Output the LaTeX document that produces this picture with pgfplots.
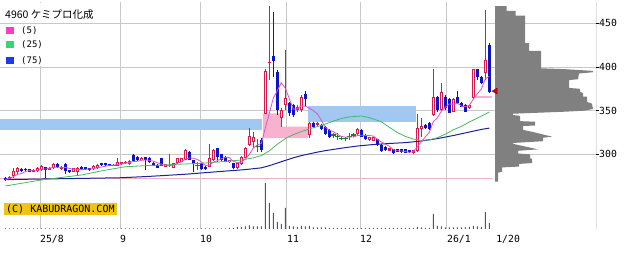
\documentclass[border=0pt]{standalone}
\usepackage{pgfplots}
\pgfplotsset{compat=1.18}
\usepackage{pgfplotstable}
\usepackage{fontspec}
\setmainfont{DejaVu Sans Mono}
\newfontfamily\cjk{Noto Sans CJK JP}

\definecolor{upc}{RGB}{215,25,80}
\definecolor{dnc}{RGB}{10,20,200}
\definecolor{djc}{RGB}{20,130,40}
\definecolor{ma5}{RGB}{225,80,200}
\definecolor{ma25}{RGB}{70,185,95}
\definecolor{ma75}{RGB}{25,35,150}
\definecolor{bandc}{RGB}{160,200,242}
\definecolor{gapc}{RGB}{248,178,206}
\definecolor{lowc}{RGB}{240,175,195}
\definecolor{gridc}{RGB}{200,200,200}
\definecolor{volc}{RGB}{80,80,125}
\definecolor{profc}{RGB}{128,128,128}
\definecolor{copyc}{RGB}{240,195,20}
\definecolor{leg5}{RGB}{255,60,200}
\definecolor{leg25}{RGB}{60,210,120}
\definecolor{leg75}{RGB}{30,60,230}

\pgfplotsset{
  candle/.style 2 args={draw=none, mark=none, forget plot,
    error bars/.cd, y dir=plus, y explicit, error mark=none,
    error bar style={draw=#1, line width=#2}},
}

% i open high low close volume(px) ma5
\pgfplotstableread{
i o h l c v m
0 272.5 273.5 269.5 270.2 0.6 271.0
1 271.5 275.0 271.0 274.0 0.6 272.3
2 275.5 283.9 273.3 280.9 0.6 274.5
3 279.4 285.0 278.0 283.9 0.6 277.0
4 283.2 284.0 280.0 280.9 0.6 278.0
5 283.0 284.0 280.5 281.5 0.6 280.2
6 282.8 283.5 279.5 280.1 0.6 281.5
7 280.1 283.0 279.5 282.0 0.6 281.7
8 280.9 285.5 280.0 284.7 0.6 281.8
9 282.0 287.5 281.0 286.5 0.6 283.0
10 285.0 286.0 273.0 282.0 0.6 283.1
11 282.4 285.5 282.0 284.7 0.6 284.0
12 283.9 289.5 283.0 288.5 0.6 285.3
13 288.5 289.5 284.5 285.0 0.6 285.3
14 283.2 286.5 282.5 285.8 0.6 285.2
15 288.5 289.5 278.0 280.9 0.6 285.0
16 281.6 282.0 279.0 279.4 0.6 283.9
17 280.1 284.5 279.5 283.9 0.6 283.0
18 280.1 285.5 276.3 284.7 0.6 282.9
19 285.8 286.5 282.0 282.8 0.6 282.3
20 285.0 286.0 282.5 283.0 0.6 282.8
21 283.9 284.5 281.0 281.6 0.6 283.2
22 283.2 287.5 282.5 287.0 0.6 283.8
23 283.9 288.5 283.5 287.7 0.6 284.4
24 289.7 290.5 287.0 287.7 0.6 285.4
25 289.7 290.5 287.0 287.7 0.6 286.3
26 288.5 289.0 286.5 287.0 0.6 287.4
27 287.7 289.0 286.5 287.7 0.6 287.6
28 287.0 295.4 286.5 291.5 0.6 288.3
29 288.5 291.5 288.0 290.8 0.6 288.9
30 289.5 292.5 289.0 291.6 0.6 289.7
31 288.5 293.0 288.0 292.3 0.6 290.8
32 299.2 300.5 291.5 292.3 0.6 291.7
33 297.3 298.0 292.5 293.0 0.6 292.0
34 293.5 297.0 293.0 296.2 0.6 293.1
35 296.5 297.5 282.0 293.5 0.6 293.5
36 296.2 297.0 290.0 290.8 0.6 293.2
37 290.4 291.0 286.5 287.0 0.6 292.1
38 287.7 288.5 284.0 284.7 0.6 290.4
39 295.4 296.0 286.5 287.0 0.6 288.6
40 285.8 289.0 285.0 288.5 0.6 287.6
41 287.7 299.9 285.8 287.7 0.6 287.0
42 284.7 290.5 284.0 289.7 0.6 287.5
43 289.7 296.0 289.0 295.4 0.6 289.7
44 291.6 296.0 291.0 295.4 0.6 291.3
45 293.5 306.0 293.0 304.9 0.6 294.6
46 302.3 303.5 293.0 293.5 0.6 295.8
47 293.5 294.0 280.1 288.5 0.6 295.5
48 287.7 291.6 282.0 287.7 0.6 294.0
49 289.7 290.5 282.5 283.2 0.6 291.6
50 285.8 286.5 282.5 283.2 0.6 287.2
51 285.8 311.4 285.0 295.4 0.6 287.6
52 293.5 306.0 292.0 304.9 0.6 290.9
53 306.9 307.5 291.6 297.3 0.6 292.8
54 300.0 300.5 292.5 293.5 0.6 294.9
55 297.3 298.0 291.0 291.6 0.6 296.5
56 290.8 294.0 290.0 293.5 1.0 296.2
57 289.7 290.5 283.0 283.9 1.0 292.0
58 284.0 290.5 283.5 289.7 2.0 290.4
59 288.5 298.0 288.0 297.3 2.0 291.2
60 296.2 308.0 295.5 306.9 2.5 294.3
61 310.6 329.7 310.0 321.3 3.5 299.8
62 314.5 325.9 306.9 320.2 2.5 307.1
63 308.5 318.0 303.0 308.5 2.5 310.8
64 316.4 318.6 303.0 304.9 2.5 312.4
65 346.1 397.5 346.0 395.4 46 330.1
66 404.0 469.8 385.0 406.0 26 347.0
67 412.5 463.0 389.0 406.8 16 364.3
68 394.6 397.0 345.0 350.7 7 372.8
69 341.2 353.0 331.6 350.7 5 381.9
70 356.4 419.4 350.7 364.4 21 375.7
71 358.4 360.0 344.0 347.0 3 363.9
72 356.5 358.0 343.0 345.0 2.5 351.6
73 350.7 356.0 349.0 354.5 2 352.3
74 350.7 368.0 349.0 366.0 3 355.4
75 369.0 372.0 355.2 363.0 2.5 355.1
76 322.0 336.9 318.6 335.5 3 352.8
77 335.5 337.0 330.5 331.6 1.5 350.1
78 333.6 337.0 332.5 336.2 1.5 346.5
79 333.6 334.5 328.0 328.6 1.5 339.0
80 331.6 332.5 322.5 323.2 1.5 331.0
81 327.8 328.5 318.5 319.4 0.8 327.8
82 322.1 324.0 318.3 322.1 0.8 325.9
83 320.2 324.0 316.4 320.2 0.8 322.7
84 318.3 321.0 316.4 318.3 0.8 320.6
85 318.0 320.2 315.6 318.0 0.8 319.6
86 320.2 324.0 316.4 320.2 0.8 319.8
87 322.1 324.7 319.4 322.1 0.8 319.8
88 323.2 330.0 322.5 328.6 0.8 321.4
89 327.8 328.5 319.5 320.2 0.8 321.8
90 322.1 323.0 316.5 317.1 0.8 321.6
91 316.4 320.0 315.6 319.4 0.8 321.5
92 315.6 320.2 315.0 319.4 0.8 320.9
93 317.1 318.0 310.0 310.6 0.8 317.3
94 311.0 312.0 303.0 304.2 0.8 314.1
95 308.7 309.5 304.2 304.9 0.8 311.7
96 304.2 307.5 303.5 306.8 0.8 309.2
97 305.7 306.5 300.5 301.1 0.8 305.5
98 305.7 306.5 302.5 303.0 0.8 304.0
99 305.7 306.0 302.0 303.0 0.8 303.8
100 305.7 306.5 301.5 302.0 0.8 303.2
101 304.9 305.5 302.0 302.6 0.8 302.3
102 301.5 305.5 300.5 304.5 0.8 303.0
103 303.5 346.0 302.5 330.0 2 308.4
104 328.6 341.2 320.0 332.4 1.5 314.3
105 333.5 335.0 329.0 329.8 1 319.9
106 335.5 336.5 328.0 328.6 1 325.1
107 345.0 397.7 344.0 366.0 15 337.4
108 366.0 367.0 349.0 350.7 3 341.5
109 350.7 381.6 350.0 371.7 2.5 349.4
110 366.0 367.5 351.0 352.7 1.5 353.9
111 363.0 364.0 347.0 347.6 1.5 357.7
112 348.8 364.0 348.0 363.0 1.5 357.1
113 365.5 372.0 357.5 358.4 1.5 358.7
114 358.7 359.5 354.0 354.5 1.5 355.2
115 356.5 357.5 348.0 348.8 1.5 354.5
116 352.7 357.0 352.0 356.5 2 356.2
117 364.0 398.0 363.0 397.3 3 363.1
118 397.3 398.0 385.0 388.9 2.5 369.2
119 388.9 390.0 380.0 381.3 2 374.6
120 392.7 465.0 385.0 408.0 17 386.4
121 425.2 428.0 370.0 371.7 6 389.4
}\ohlc

\pgfplotstableread{
i p
0 263.7
4 266.8
9 270.6
14 273.5
19 276.3
24 281.0
30 285.8
35 287.0
39 287.7
44 288.8
49 289.7
54 291.5
59 293.5
62 296.0
64 298.5
66 304.0
68 311.5
70 318.0
72 322.5
74 326.0
76 329.0
79 333.0
82 338.0
84 341.0
86 342.8
89 343.9
91 342.0
94 337.3
96 331.0
98 325.0
100 320.5
102 317.5
104 316.0
106 316.5
108 319.0
110 323.0
112 328.0
114 332.0
116 337.0
118 341.5
120 346.0
121 348.5
}\mafive

\pgfplotstableread{
i p
0 271.0
10 271.8
20 272.5
29 273.2
35 274.5
40 275.8
45 277.2
50 279.0
55 280.8
60 282.5
64 284.5
66 287.0
68 290.0
70 293.0
72 296.0
74 298.5
76 300.5
78 302.5
80 304.2
84 307.0
88 309.5
92 311.2
96 312.4
100 313.4
104 315.2
108 318.0
112 321.5
116 325.5
119 328.5
121 330.0
}\maseven

\begin{document}
\begin{tikzpicture}
\begin{axis}[
  at={(0pt,27pt)}, anchor=south west, scale only axis,
  width=596pt, height=227pt,
  xmin=-1.325, xmax=147.675, ymin=214.5, ymax=474.4,
  axis line style={draw=none},
  xtick={8.67,28.67,48.67,70.4,88.67,110.4},
  xticklabels={25/8,9,10,11,12,26/1},
  extra x ticks={122.7}, extra x tick labels={1/20},
  extra x tick style={grid=none},
  xtick style={draw=none},
  ytick={300,350,400,450},
  ytick pos=right, yticklabel pos=right,
  tick align=outside, major tick length=3pt,
  ytick style={black, line width=0.6pt},
  grid=major, major grid style={gridc, line width=0.9pt},
  xticklabel style={anchor=north west, inner sep=0pt, yshift=-3.5pt, font=\fontsize{9.8}{10}\selectfont},
  yticklabel style={anchor=west, inner sep=0pt, font=\fontsize{9.8}{10}\selectfont},
  /pgf/number format/assume math mode=true,
]
% gap bands
\addplot[fill=bandc, draw=none] coordinates {(-1.325,327.7) (64.2,327.7) (64.2,340.0) (-1.325,340.0)};
\addplot[fill=bandc, draw=none] coordinates {(75.7,336.9) (102.7,336.9) (102.7,355.2) (75.7,355.2)};
\addplot[fill=gapc, draw=none] coordinates {(64.4,318.6) (64.4,346.9) (68.9,346.9) (68.9,331.6) (75.7,331.6) (75.7,318.6)};
% low line and short line
\addplot[lowc, line width=0.9pt] coordinates {(-1.325,272.8) (121.9,272.8)};
\addplot[gapc, line width=2.2pt] coordinates {(117.2,365.5) (121.7,365.5)};
% wicks
\addplot[candle={upc}{1pt}]
  table[x=i, y expr={\thisrow{c}>\thisrow{o}+0.01 ? \thisrow{l} : nan}, y error plus expr={\thisrow{h}-\thisrow{l}}] {\ohlc};
\addplot[candle={dnc}{1pt}]
  table[x=i, y expr={\thisrow{c}<\thisrow{o}-0.01 ? \thisrow{l} : nan}, y error plus expr={\thisrow{h}-\thisrow{l}}] {\ohlc};
\addplot[candle={djc}{1pt}]
  table[x=i, y expr={abs(\thisrow{c}-\thisrow{o})<=0.01 ? \thisrow{l} : nan}, y error plus expr={\thisrow{h}-\thisrow{l}}] {\ohlc};
% bodies
\addplot[candle={upc}{3pt}]
  table[x=i, y expr={\thisrow{c}>\thisrow{o}+0.01 ? \thisrow{o} : nan}, y error plus expr={max(\thisrow{c}-\thisrow{o},1.15)}] {\ohlc};
\addplot[candle={white}{1pt}]
  table[x=i, y expr={\thisrow{c}-\thisrow{o}>2.6 ? \thisrow{o}+1.15 : nan}, y error plus expr={\thisrow{c}-\thisrow{o}-2.3}] {\ohlc};
\addplot[candle={dnc}{3pt}]
  table[x=i, y expr={\thisrow{c}<\thisrow{o}-0.01 ? \thisrow{c} : nan}, y error plus expr={max(\thisrow{o}-\thisrow{c},1.15)}] {\ohlc};
\addplot[candle={djc}{5pt}]
  table[x=i, y expr={abs(\thisrow{c}-\thisrow{o})<=0.01 ? \thisrow{o}-0.6 : nan}, y error plus expr={1.2}] {\ohlc};
% moving averages
\addplot[ma75, line width=1pt, mark=none] table[x=i, y=p] {\maseven};
\addplot[ma25, line width=0.8pt, mark=none] table[x=i, y=p] {\mafive};
\addplot[ma5, line width=0.8pt, mark=none] table[x=i, y=m] {\ohlc};
% frame
\draw[black, line width=0.8pt, dash pattern=on 2pt off 2pt] (rel axis cs:0,0) -- (axis cs:122.5,214.5);
\draw[black, line width=0.8pt] (axis cs:122.5,214.5) -- (rel axis cs:1,0) -- (rel axis cs:1,1);
\end{axis}

% volume
\begin{axis}[
  at={(0pt,27pt)}, anchor=south west, scale only axis,
  width=596pt, height=227pt,
  xmin=-1.325, xmax=147.675, ymin=0, ymax=227, hide axis,
]
\addplot[ybar, bar width=1pt, bar shift=0pt, fill=volc, draw=none] table[x=i, y=v] {\ohlc};
\end{axis}

% volume-by-price profile
\begin{axis}[
  at={(495pt,27pt)}, anchor=south west, scale only axis,
  width=101pt, height=227pt,
  xmin=0, xmax=101, ymin=214.5, ymax=474.4, hide axis, clip=false,
]
\addplot[fill=profc, draw=none] coordinates {
(0,469.8) (11.7,469.8) (11.7,464.1) (20.7,464.1) (20.7,458.7) (30,458.7) (30,427.4) (34,427.4)
(34,418.3) (46,418.3) (46,398.5) (70,397.5) (98,395.5) (98,394) (84,392.5) (83,386) (74,385)
(74,376) (85,375) (85,371.7) (88,370) (88,366) (92,366) (92,360) (97,358) (98,352) (90,350)
(70,348.8) (18,346.5) (18,345) (25,344) (25,338) (40,337.3) (40,333) (28,332.4) (28,328)
(40,325) (57,320.2) (48,319) (48,315) (18,313) (18,312) (30,309) (43,305.7) (23,304) (23,301)
(35,300) (35,295.4) (37,295) (37,290) (24,289) (24,286) (7,285) (7,280) (3,279) (3,268.6) (0,268.6)};
\addplot[only marks, mark=triangle*, mark size=3.3pt,
  mark options={rotate=90, fill=red!85!black, draw=red!50!black, line width=0.5pt}]
  coordinates {(0.5,372.4)};
\end{axis}

% legend box
\fill[white] (0pt,190pt) rectangle (115pt,253pt);
\draw[gridc, line width=0.9pt] (0pt,232.7pt) -- (115pt,232.7pt);
\node[anchor=west, inner sep=0pt] at (5pt,241pt) {\cjk\fontsize{10.5}{12}\selectfont 4960 ケミプロ化成};
\fill[leg5] (6pt,222pt) rectangle (14pt,229.3pt);
\node[anchor=west, inner sep=0pt] at (21pt,225.7pt) {\fontsize{9}{10}\selectfont (5)};
\fill[leg25] (6pt,207.7pt) rectangle (14pt,215pt);
\node[anchor=west, inner sep=0pt] at (21pt,211.3pt) {\fontsize{9}{10}\selectfont (25)};
\fill[leg75] (6pt,192pt) rectangle (14pt,199.3pt);
\node[anchor=west, inner sep=0pt] at (21pt,195.7pt) {\fontsize{9}{10}\selectfont (75)};
% copyright
\node[fill=copyc, anchor=west, inner xsep=2pt, inner ysep=0pt, minimum height=12pt] at (4pt,47pt)
  {\fontsize{10}{10}\selectfont (C) KABUDRAGON.COM};

\pgfresetboundingbox
\path[use as bounding box] (0pt,0pt) rectangle (641pt,256pt);
\end{tikzpicture}
\end{document}
